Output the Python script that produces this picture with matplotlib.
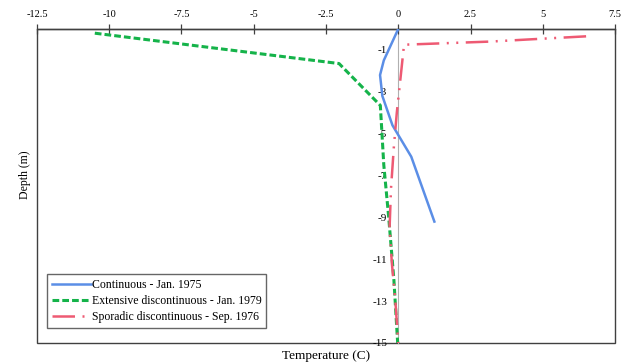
import matplotlib
matplotlib.use("Agg")
import matplotlib.pyplot as plt
from matplotlib.patches import Rectangle

# ---- data ----
cont_temp = [0.0, -0.5, -0.63, -0.55, -0.2, 0.45, 1.25]
cont_depth = [0.0, -1.5, -2.2, -3.2, -4.6, -6.1, -9.2]

ext_temp = [-10.5, -2.05, -0.62, -0.5, -0.33, -0.15, -0.02]
ext_depth = [-0.2, -1.65, -3.65, -6.5, -9.0, -12.0, -15.0]

spor_temp = [6.5, 4.5, 3.2, 0.2, 0.12, -0.05, -0.15, -0.25, -0.3, -0.22, -0.1, 0.0]
spor_depth = [-0.35, -0.5, -0.6, -0.75, -1.8, -4.0, -5.6, -7.6, -9.5, -11.2, -13.0, -15.0]

labels = ["Continuous - Jan. 1975",
          "Extensive discontinuous - Jan. 1979",
          "Sporadic discontinuous - Sep. 1976"]

x_ticks = [-12.5, -10, -7.5, -5, -2.5, 0, 2.5, 5, 7.5]
x_ticklabels = ["-12.5", "-10", "-7.5", "-5", "-2.5", "0", "2.5", "5", "7.5"]
y_ticks = [-1, -3, -5, -7, -9, -11, -13, -15]
y_ticklabels = ["-1", "-3", "-5", "-7", "-9", "-11", "-13", "-15"]

plt.rcParams['font.family'] = ['Liberation Serif', 'DejaVu Serif']

fig = plt.figure(figsize=(6.32, 3.64), dpi=100)
ax = fig.add_axes([37/632, 1-343/364, 578/632, 314/364])

ax.plot(cont_temp, cont_depth, color='#5B8EE6', lw=1.8, label=labels[0], zorder=3)
ax.plot(ext_temp, ext_depth, color='#15B34A', lw=2.2, ls=(0, (2.2, 1.0)), label=labels[1], zorder=3)
ax.plot(spor_temp, spor_depth, color='#EE5A73', lw=1.8,
        ls=(0, (9, 3, 0.8, 3, 0.8, 3)), label=labels[2], zorder=3)

ax.set_xlim(-12.5, 7.5)
ax.set_ylim(-15, 0)

# x axis at top
ax.xaxis.tick_top()
ax.set_xticks(x_ticks)
ax.set_xticklabels(x_ticklabels)
ax.tick_params(axis='x', direction='inout', length=7, width=0.9, color='#404040',
               labelsize=7.5, pad=4)

# y axis crossing at x = 0
ax.spines['left'].set_position(('data', 0))
ax.spines['left'].set_color('#B0B0B0')
ax.spines['left'].set_linewidth(0.8)
ax.spines['left'].set_zorder(1)
ax.set_yticks(y_ticks)
ax.set_yticklabels(y_ticklabels)
ax.tick_params(axis='y', length=0, labelsize=8, pad=8)

ax.spines['top'].set_color('#404040')
ax.spines['top'].set_linewidth(1.0)
for s in ['right', 'bottom']:
    ax.spines[s].set_visible(False)

# outer frame
ax.add_patch(Rectangle((0, 0), 1, 1, transform=ax.transAxes, fill=False,
                       edgecolor='#404040', lw=1.0, clip_on=False, zorder=0))

ax.text(0.5, -0.022, "Temperature (C)", transform=ax.transAxes,
        ha='center', va='top', fontsize=9.5)
fig.text(25/632, 1-175/364, "Depth (m)", rotation=90, ha='center', va='center',
         fontsize=8.5)

leg = ax.legend(loc='lower left', bbox_to_anchor=(0.017, 0.048), borderaxespad=0,
                fontsize=8.5, frameon=True, fancybox=False, edgecolor='#404040',
                handlelength=3.3, handletextpad=0.12, labelspacing=0.35,
                borderpad=0.4)
leg.get_frame().set_linewidth(1.0)

fig.savefig("out.png", dpi=100, facecolor='white')
